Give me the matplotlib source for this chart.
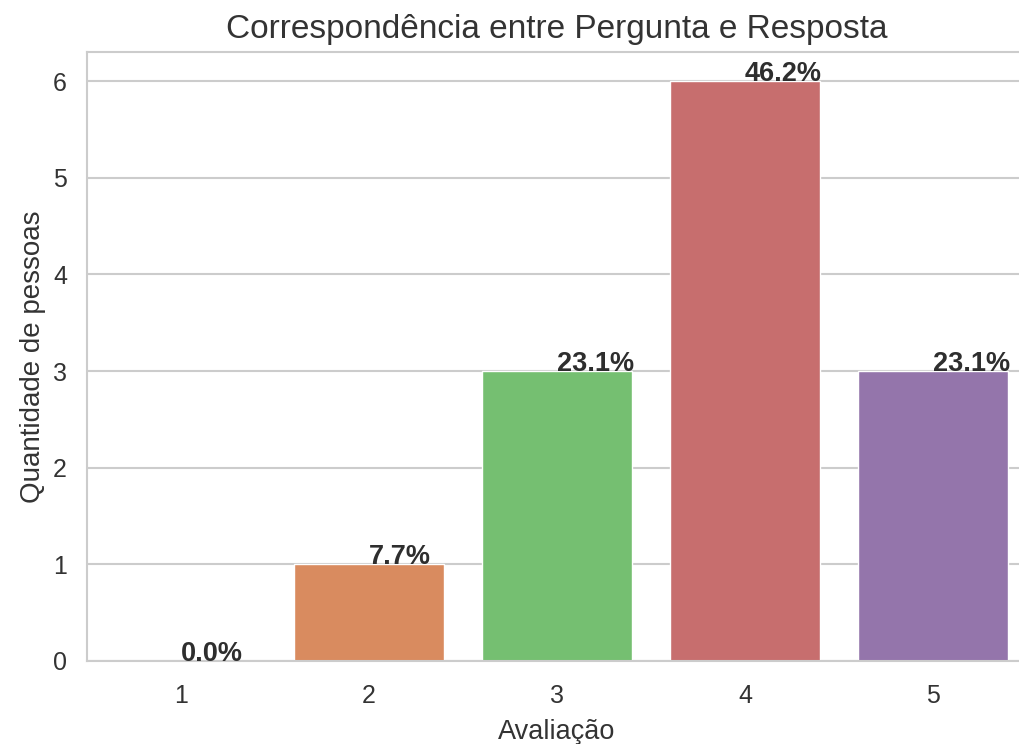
import matplotlib
matplotlib.use("Agg")
import matplotlib.pyplot as plt
import seaborn as sns

# avaliações 1..5 e quantidade de pessoas
ratings = ["1", "2", "3", "4", "5"]
counts = [0, 1, 3, 6, 3]
percent_labels = ["0.0%", "7.7%", "23.1%", "46.2%", "23.1%"]

sns.set_theme(style="whitegrid")
plt.rcParams["font.family"] = ["Liberation Sans", "DejaVu Sans"]

colors = [sns.desaturate(c, 0.75) for c in sns.color_palette("muted", len(ratings))]

fig = plt.figure(figsize=(10.19, 7.44), dpi=100)
ax = fig.add_axes([0.0854, 0.1116, 0.9225, 0.8184])

x = list(range(len(ratings)))
bars = ax.bar(x, counts, width=0.8, color=colors, edgecolor="white", linewidth=1, zorder=2)

for p, lbl in zip(bars, percent_labels):
    ax.annotate(lbl, (p.get_x() + p.get_width() / 2, p.get_height()),
                fontsize=19.5, fontweight="bold", color=".18", zorder=3)

ax.set_xticks(x)
ax.set_xticklabels(ratings)
ax.set_xlim(-0.5, 4.5)
ax.set_ylim(0, 6.3)
ax.tick_params(axis="both", labelsize=18, colors=".2")
ax.tick_params(axis="x", pad=10.5)
ax.tick_params(axis="y", pad=8.5)
ax.set_xlabel("Avaliação", fontsize=19.5, color=".2", labelpad=8)
ax.set_ylabel("Quantidade de pessoas", fontsize=20, color=".2", labelpad=5)
ax.set_title("Correspondência entre Pergunta e Resposta", fontsize=24, color=".2", pad=10)
ax.grid(axis="x", visible=False)
ax.grid(axis="y", color=".8", linewidth=1.5)
for s in ax.spines.values():
    s.set_color(".8")
    s.set_linewidth(1.5)

fig.savefig("out.png", dpi=100)
